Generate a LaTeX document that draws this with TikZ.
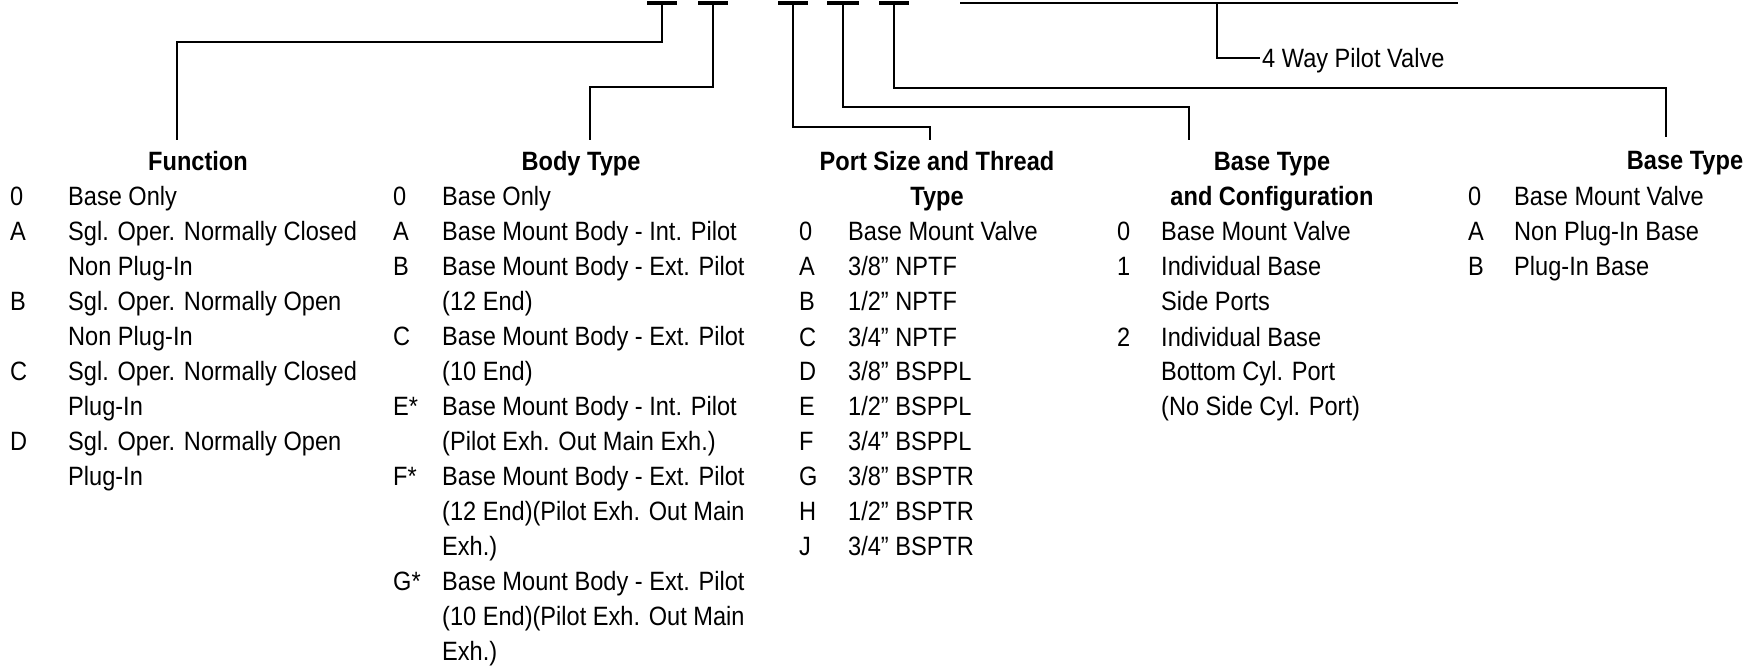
\documentclass[tikz,border=0pt]{standalone}
\usepackage{fontspec}
\setmainfont{Liberation Sans}[FakeStretch=0.89]
\begin{document}
\begin{tikzpicture}[x=1pt,y=-1pt,
  conn/.style={line width=2.7pt, line join=miter, line cap=butt},
  thin/.style={line width=2.2pt, line cap=butt},
  dashbar/.style={fill=black, inner sep=0pt, minimum height=3.2pt, minimum width=30pt},
  hdr/.style={font=\fontsize{26.5}{35}\selectfont\bfseries, inner sep=0pt, anchor=base},
  lst/.style={font=\fontsize{26.5}{35}\selectfont, inner sep=0pt, anchor=base west},
  lbl/.style={font=\fontsize{26.5}{35}\selectfont, inner sep=2pt, anchor=base west}]
\fill[white] (0,0) rectangle (1754,671);
\useasboundingbox (0,0) rectangle (1754,671);

% top dashes
\node[dashbar] (d1) at (662,3) {};
\node[dashbar] (d2) at (713,3) {};
\node[dashbar] (d3) at (793,3) {};
\node[dashbar, minimum width=32pt] (d4) at (843,3) {};
\node[dashbar] (d5) at (894,3) {};

% long top line and pilot valve
\coordinate (tl1) at (960,3);
\coordinate (tl2) at (1458,3);
\coordinate (tlm) at (1217,3);
\draw[thin] (tl1) -- (tl2);
\node[lbl] (pv) at (1260,68) {4 Way Pilot Valve};
\coordinate (pvc) at (1217,58);
\draw[conn] (tlm) -- (pvc) -- (pvc -| pv.west);

% headers
\node[hdr] (hF) at (198,171) {Function};
\node[hdr] (hB) at (581,171) {Body Type};
\node[hdr] (hP) at (937,171) {Port Size and Thread};
\node[hdr] (hP2) at (937,206) {Type};
\node[hdr] (hC) at (1272,171) {Base Type};
\node[hdr] (hC2) at (1272,206) {and Configuration};
\node[hdr] (hR) at (1685,170) {Base Type};

% connectors
\coordinate (c1) at (177,42);   \coordinate (e1) at (177,140);
\coordinate (c2) at (590,87);   \coordinate (e2) at (590,140);
\coordinate (c3) at (930,127);  \coordinate (e3) at (930,140);
\coordinate (c4) at (1189,107); \coordinate (e4) at (1189,140);
\coordinate (c5) at (1666,88);  \coordinate (e5) at (1666,137);
\draw[conn] (d1.center) |- (c1) -- (e1);
\draw[conn] (d2.center) |- (c2) -- (e2);
\draw[conn] (d3.center) |- (c3) -- (e3);
\draw[conn] (d4.center) |- (c4) -- (e4);
\draw[conn] (d5.center) |- (c5) -- (e5);

% lists
\node[lst] (lF) at (10,206) {\begin{tabular}[t]{@{}p{58pt}@{}l@{}}
0 & Base Only\\
A & Sgl. Oper. Normally Closed\\
  & Non Plug-In\\
B & Sgl. Oper. Normally Open\\
  & Non Plug-In\\
C & Sgl. Oper. Normally Closed\\
  & Plug-In\\
D & Sgl. Oper. Normally Open\\
  & Plug-In
\end{tabular}};

\node[lst] (lB) at (393,206) {\begin{tabular}[t]{@{}p{49pt}@{}l@{}}
0 & Base Only\\
A & Base Mount Body - Int. Pilot\\
B & Base Mount Body - Ext. Pilot\\
  & (12 End)\\
C & Base Mount Body - Ext. Pilot\\
  & (10 End)\\
E* & Base Mount Body - Int. Pilot\\
  & (Pilot Exh. Out Main Exh.)\\
F* & Base Mount Body - Ext. Pilot\\
  & (12 End)(Pilot Exh. Out Main\\
  & Exh.)\\
G* & Base Mount Body - Ext. Pilot\\
  & (10 End)(Pilot Exh. Out Main\\
  & Exh.)
\end{tabular}};

\node[lst] (lP) at (799,241) {\begin{tabular}[t]{@{}p{49pt}@{}l@{}}
0 & Base Mount Valve\\
A & 3/8” NPTF\\
B & 1/2” NPTF\\
C & 3/4” NPTF\\
D & 3/8” BSPPL\\
E & 1/2” BSPPL\\
F & 3/4” BSPPL\\
G & 3/8” BSPTR\\
H & 1/2” BSPTR\\
J & 3/4” BSPTR
\end{tabular}};

\node[lst] (lC) at (1117,241) {\begin{tabular}[t]{@{}p{44pt}@{}l@{}}
0 & Base Mount Valve\\
1 & Individual Base\\
  & Side Ports\\
2 & Individual Base\\
  & Bottom Cyl. Port\\
  & (No Side Cyl. Port)
\end{tabular}};

\node[lst] (lR) at (1468,206) {\begin{tabular}[t]{@{}p{46pt}@{}l@{}}
0 & Base Mount Valve\\
A & Non Plug-In Base\\
B & Plug-In Base
\end{tabular}};
\end{tikzpicture}
\end{document}
